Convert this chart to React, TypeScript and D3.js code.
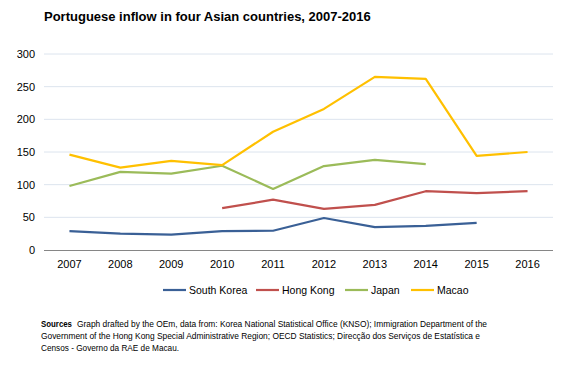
import React from "react";
import * as d3 from "d3";

const years = ["2007", "2008", "2009", "2010", "2011", "2012", "2013", "2014", "2015", "2016"];
const southKorea: (number | null)[] = [29, 25, 23.5, 29, 29.5, 49, 35, 37, 41.5, null];
const hongKong: (number | null)[] = [null, null, null, 64, 77, 63, 69, 90, 87, 90];
const japan: (number | null)[] = [98, 119.5, 117, 129, 93.5, 128.5, 138, 131.5, null, null];
const macao: (number | null)[] = [146, 126, 136.5, 130, 181, 216, 265, 262, 144, 150];
const yTicks = [0, 50, 100, 150, 200, 250, 300];

const seriesNames = ["South Korea", "Hong Kong", "Japan", "Macao"];
const seriesColors = ["#3a6096", "#c0504d", "#9bbb59", "#ffc000"];
const seriesValues = [southKorea, hongKong, japan, macao];

const W = 584;
const H = 378;
const left = 44;
const right = 553;
const top = 54;
const bottom = 250;

export default function App() {
  const x = d3.scaleBand<string>().domain(years).range([left, right]).paddingInner(0).paddingOuter(0);
  const y = d3.scaleLinear().domain([0, 300]).range([bottom, top]);
  const cx = (yr: string) => (x(yr) ?? 0) + x.bandwidth() / 2;
  const line = d3
    .line<number | null>()
    .defined((d) => d !== null)
    .x((_, i) => cx(years[i]))
    .y((d) => y(d as number));

  const font = "Arial, 'Liberation Sans', sans-serif";
  const legendX = [163, 256, 345, 411];

  return (
    <svg
      width={W}
      height={H}
      style={{ position: "absolute", left: 0, top: 0, background: "#fff" }}
      fontFamily={font}
    >
      <text x={44} y={21} fontSize={13} fontWeight="bold" fill="#000">
        Portuguese inflow in four Asian countries, 2007-2016
      </text>
      {yTicks.map((t) => (
        <g key={t}>
          {t > 0 && <line x1={left} x2={right} y1={y(t)} y2={y(t)} stroke="#dce4ee" strokeWidth={1} />}
          <text x={35} y={y(t) + 4} fontSize={11} textAnchor="end" fill="#000">
            {t}
          </text>
        </g>
      ))}
      <line x1={left} x2={right} y1={bottom + 0.5} y2={bottom + 0.5} stroke="#868686" strokeWidth={1} />
      {years.map((yr) => (
        <text key={yr} x={cx(yr)} y={268} fontSize={11} textAnchor="middle" fill="#000">
          {yr}
        </text>
      ))}
      {seriesValues.map((vals, i) => (
        <path key={i} d={line(vals) ?? ""} fill="none" stroke={seriesColors[i]} strokeWidth={2.2} strokeLinejoin="round" />
      ))}
      {seriesNames.map((n, i) => (
        <g key={n}>
          <line x1={legendX[i]} x2={legendX[i] + 23} y1={290} y2={290} stroke={seriesColors[i]} strokeWidth={2.2} />
          <text x={legendX[i] + 26} y={294} fontSize={10.5} fill="#000">
            {n}
          </text>
        </g>
      ))}
      <g fontSize={9.5} fill="#000">
        <text x={41} y={327} fontWeight="bold" textLength={31} lengthAdjust="spacingAndGlyphs">
          Sources
        </text>
        <text x={77} y={327} textLength={410} lengthAdjust="spacingAndGlyphs">
          Graph drafted by the OEm, data from: Korea National Statistical Office (KNSO); Immigration Department of the
        </text>
        <text x={41} y={339} textLength={439} lengthAdjust="spacingAndGlyphs">
          Government of the Hong Kong Special Administrative Region; OECD Statistics; Direcção dos Serviços de Estatística e
        </text>
        <text x={41} y={351} textLength={138} lengthAdjust="spacingAndGlyphs">
          Censos - Governo da RAE de Macau.
        </text>
      </g>
    </svg>
  );
}
